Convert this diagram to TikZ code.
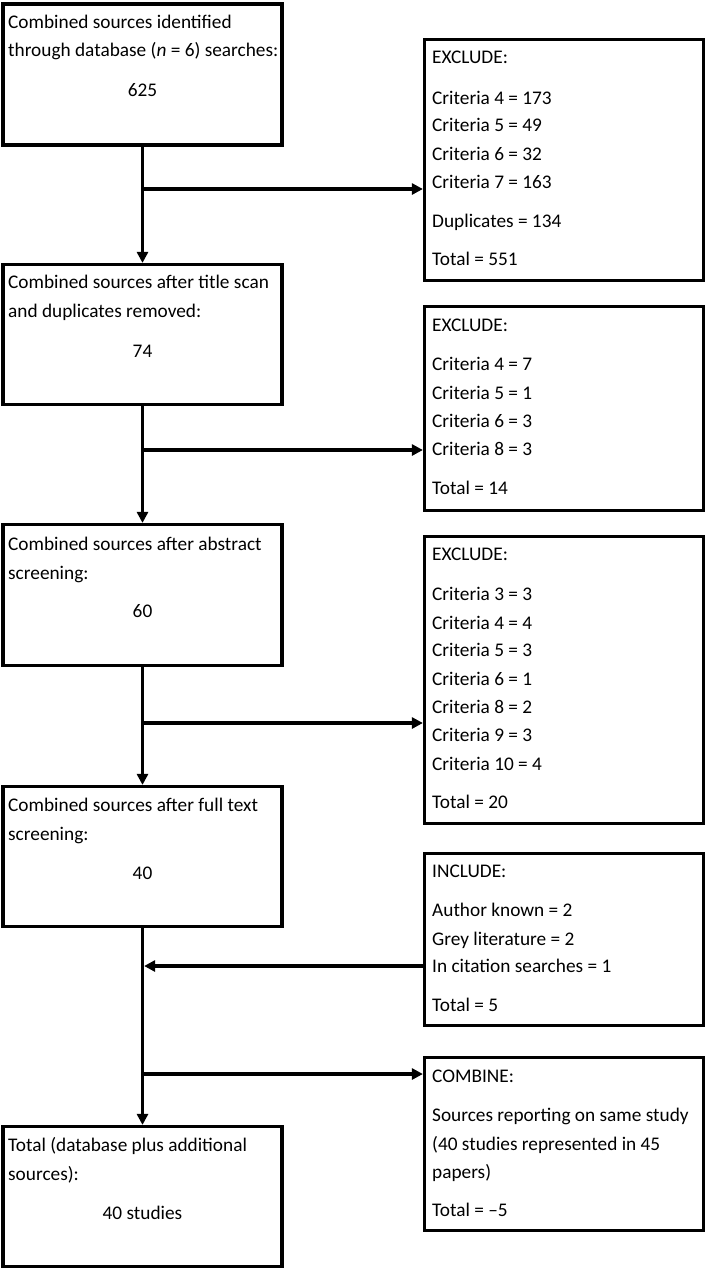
\documentclass[tikz,border=0pt]{standalone}
\usepackage{fontspec}
\setmainfont{Carlito}
\usetikzlibrary{arrows.meta}
\begin{document}
\begin{tikzpicture}[x=1pt,y=-1pt,
  box/.style={draw=black, line width=3.2pt, minimum width=279pt, inner sep=0pt},
  txt/.style={anchor=base west, inner sep=0pt, font=\fontsize{19.3}{23}\selectfont},
  num/.style={anchor=base, inner sep=0pt, font=\fontsize{19.3}{23}\selectfont},
  arr/.style={line width=3.2pt, -{Triangle[length=11pt,width=11pt]}},
  conn/.style={line width=3.2pt}]
\useasboundingbox[fill=white] (0,0) rectangle (709,1270);

% left column boxes
\node[box, minimum height=141pt] (L1) at (142.5,74.5) {};
\node[box, minimum height=140pt] (L2) at (142.5,334.5) {};
\node[box, minimum height=141pt] (L3) at (142.5,595) {};
\node[box, minimum height=140pt] (L4) at (142.5,856.5) {};
\node[box, minimum height=140pt] (L5) at (142.5,1196.5) {};

\node[txt] (L1a) at (8,28.3) {Combined sources identified};
\node[txt] (L1b) at (8,56.7) {through database (\textit{n} = 6) searches:};
\node[num] (L1n) at (142.5,96.7) {625};

\node[txt] (L2a) at (8,288.5) {Combined sources after title scan};
\node[txt] (L2b) at (8,317) {and duplicates removed:};
\node[num] (L2n) at (142.5,357) {74};

\node[txt] (L3a) at (8,550.7) {Combined sources after abstract};
\node[txt] (L3b) at (8,579) {screening:};
\node[num] (L3n) at (142.5,617) {60};

\node[txt] (L4a) at (8,811.7) {Combined sources after full text};
\node[txt] (L4b) at (8,840) {screening:};
\node[num] (L4n) at (142.5,879) {40};

\node[txt] (L5a) at (8,1151.7) {Total (database plus additional};
\node[txt] (L5b) at (8,1180) {sources):};
\node[num] (L5n) at (142.5,1219) {40 studies};

% right column boxes
\node[box, minimum height=241pt] (R1) at (564,160) {};
\node[box, minimum height=204pt] (R2) at (564,408.5) {};
\node[box, minimum height=287pt] (R3) at (564,680) {};
\node[box, minimum height=172pt] (R4) at (564,939.5) {};
\node[box, minimum height=173pt] (R5) at (564,1144) {};

\foreach \y/\t [count=\i] in {63.3/{EXCLUDE:}, 104/{Criteria 4 = 173}, 131.7/{Criteria 5 = 49}, 160/{Criteria 6 = 32}, 188.3/{Criteria 7 = 163}, 227.3/{Duplicates = 134}, 265/{Total = 551}}
  \node[txt] (R1-\i) at (432,\y) {\t};
\foreach \y/\t [count=\i] in {331.7/{EXCLUDE:}, 370.7/{Criteria 4 = 7}, 399/{Criteria 5 = 1}, 427/{Criteria 6 = 3}, 455.7/{Criteria 8 = 3}, 494/{Total = 14}}
  \node[txt] (R2-\i) at (432,\y) {\t};
\foreach \y/\t [count=\i] in {560.7/{EXCLUDE:}, 600.7/{Criteria 3 = 3}, 629/{Criteria 4 = 4}, 656.7/{Criteria 5 = 3}, 685/{Criteria 6 = 1}, 713.3/{Criteria 8 = 2}, 741.7/{Criteria 9 = 3}, 770/{Criteria 10 = 4}, 808.3/{Total = 20}}
  \node[txt] (R3-\i) at (432,\y) {\t};
\foreach \y/\t [count=\i] in {877.3/{INCLUDE:}, 916.7/{Author known = 2}, 945/{Grey literature = 2}, 972.3/{In citation searches = 1}, 1011.7/{Total = 5}}
  \node[txt] (R4-\i) at (432,\y) {\t};
\foreach \y/\t [count=\i] in {1082.3/{COMBINE:}, 1121.7/{Sources reporting on same study}, 1150/{(40 studies represented in 45}, 1178.3/{papers)}, 1216.7/{Total = –5}}
  \node[txt] (R5-\i) at (432,\y) {\t};

% trunk
\draw[arr] (L1.south) -- (L2.north);
\draw[arr] (L2.south) -- (L3.north);
\draw[arr] (L3.south) -- (L4.north);
\draw[arr] (L4.south) -- (L5.north);

% branches
\coordinate (b1) at (142.5,189);
\coordinate (b2) at (142.5,450);
\coordinate (b3) at (142.5,723);
\coordinate (b4) at (144.1,966);
\coordinate (b5) at (142.5,1074);
\draw[arr] (b1) -- (b1 -| R1.west);
\draw[arr] (b2) -- (b2 -| R2.west);
\draw[arr] (b3) -- (b3 -| R3.west);
\draw[arr] (b4 -| R4.west) -- (b4);
\draw[arr] (b5) -- (b5 -| R5.west);
\end{tikzpicture}
\end{document}
